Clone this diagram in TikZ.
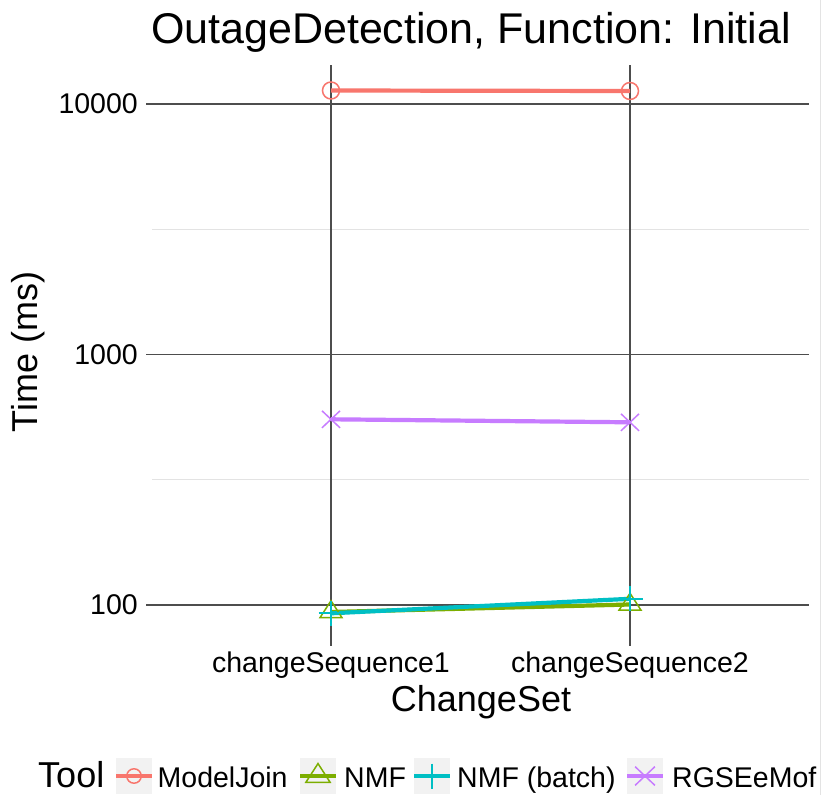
\documentclass[tikz,border=0pt]{standalone}
\usepackage{fontspec}
\setmainfont{Liberation Sans}
\definecolor{cMJ}{HTML}{F8766D}
\definecolor{cNMF}{HTML}{7CAE00}
\definecolor{cNMFB}{HTML}{00BFC4}
\definecolor{cRGS}{HTML}{C77CFF}
\definecolor{majorgrid}{HTML}{4D4D4D}
\definecolor{minorgrid}{HTML}{E3E3E3}
\definecolor{keybg}{HTML}{F2F2F2}
\begin{document}
\begin{tikzpicture}[x=1pt,y=-1pt,
  majorline/.style={draw=majorgrid,line width=1.1pt},
  minorline/.style={draw=minorgrid,line width=1.1pt},
  tickline/.style={draw=majorgrid,line width=1.6pt},
  dataline/.style={line width=4.2pt},
  ticklab/.style={font=\fontsize{28.5}{30}\selectfont,inner sep=0pt},
  axtitle/.style={font=\fontsize{36}{38}\selectfont,inner sep=0pt},
  legtext/.style={font=\fontsize{28.5}{30}\selectfont,inner sep=0pt,anchor=base west},
  keybox/.style={fill=keybg,draw=none},
  circmark/.pic={\draw[line width=1.5pt] (0,0) circle[radius=8.5];},
  trimark/.pic={\draw[line width=1.5pt,line join=miter] (-11,5.7) -- (11,5.7) -- (0,-11.3) -- cycle;},
  plusmark/.pic={\draw[line width=2.2pt] (-12.5,0) -- (12.5,0) (0,-12.5) -- (0,12.5);},
  xmark/.pic={\draw[line width=1.5pt] (-9,-8.5) -- (9,8.5) (-9,8.5) -- (9,-8.5);}
]
\useasboundingbox (0,0) rectangle (823,795);
\fill[white] (0,0) rectangle (823,795);
\draw[minorgrid,line width=1pt] (820,0) -- (820,795);

% grid
\draw[minorline] (152,229.3) -- (809,229.3);
\draw[minorline] (152,479.8) -- (809,479.8);
\draw[majorline] (152,104) -- (809,104);
\draw[majorline] (152,354.5) -- (809,354.5);
\draw[majorline] (152,605) -- (809,605);
\draw[majorline] (331,65) -- (331,640);
\draw[majorline] (630,65) -- (630,640);

% ticks
\draw[tickline] (146,104) -- (152,104);
\draw[tickline] (146,354.5) -- (152,354.5);
\draw[tickline] (146,605) -- (152,605);
\draw[tickline] (331,640) -- (331,646);
\draw[tickline] (630,640) -- (630,646);

% tick labels
\node[ticklab,anchor=east] (y4) at (138,104) {10000};
\node[ticklab,anchor=east] (y3) at (138,354.5) {1000};
\node[ticklab,anchor=east] (y2) at (138,605) {100};
\node[ticklab,anchor=base] (x1) at (331,672) {changeSequence1};
\node[ticklab,anchor=base] (x2) at (630,672) {changeSequence2};

% titles
\node[font=\fontsize{43}{45}\selectfont,inner sep=0pt,anchor=base] (title) at (471,43) {OutageDetection, Function: Initial};
\node[axtitle,anchor=base] (xtitle) at (481,711) {ChangeSet};
\node[axtitle,rotate=90] (ytitle) at (28,352) {Time (ms)};

% data points
\coordinate (mj1) at (331,90.5);
\coordinate (mj2) at (630,91);
\coordinate (nmf1) at (331,612);
\coordinate (nmf2) at (630,604.5);
\coordinate (nb1) at (331,613.3);
\coordinate (nb2) at (630,598.8);
\coordinate (rg1) at (331,419.3);
\coordinate (rg2) at (630,422.3);

% lines
\draw[dataline,cMJ] (mj1) -- (mj2);
\draw[dataline,cNMF] (nmf1) -- (nmf2);
\draw[dataline,cNMFB] (nb1) -- (nb2);
\draw[dataline,cRGS] (rg1) -- (rg2);

% markers
\pic[cMJ] at (mj1) {circmark};
\pic[cMJ] at (mj2) {circmark};
\pic[cNMF] at (nmf1) {trimark};
\pic[cNMF] at (nmf2) {trimark};
\pic[cNMFB] at (nb1) {plusmark};
\pic[cNMFB] at (nb2) {plusmark};
\pic[cRGS] at (rg1) {xmark};
\pic[cRGS] at (rg2) {xmark};

% legend
\node[axtitle,anchor=base west] (legtitle) at (38,787) {Tool};
\fill[keybox] (116,758) rectangle (152,794);
\fill[keybox] (300,758) rectangle (336,794);
\fill[keybox] (414,758) rectangle (450,794);
\fill[keybox] (627,758) rectangle (663,794);
\coordinate (k1) at (134,776);
\coordinate (k2) at (318,776);
\coordinate (k3) at (432,776);
\coordinate (k4) at (645,776);
\draw[cMJ,line width=4.5pt] (116,776) -- (152,776);
\draw[cNMF,line width=4.5pt] (300,776) -- (336,776);
\draw[cNMFB,line width=4.5pt] (414,776) -- (450,776);
\draw[cRGS,line width=4.5pt] (627,776) -- (663,776);
\pic[cMJ,scale=0.85] at (k1) {circmark};
\pic[cNMF,scale=1.1] at (k2) {trimark};
\pic[cNMFB] at (k3) {plusmark};
\pic[cRGS,scale=1.1] at (k4) {xmark};
\node[legtext] (l1) at (157.5,787) {ModelJoin};
\node[legtext] (l2) at (344,787) {NMF};
\node[legtext] (l3) at (457,787) {NMF (batch)};
\node[legtext] (l4) at (672,787) {RGSEeMof};
\end{tikzpicture}
\end{document}
